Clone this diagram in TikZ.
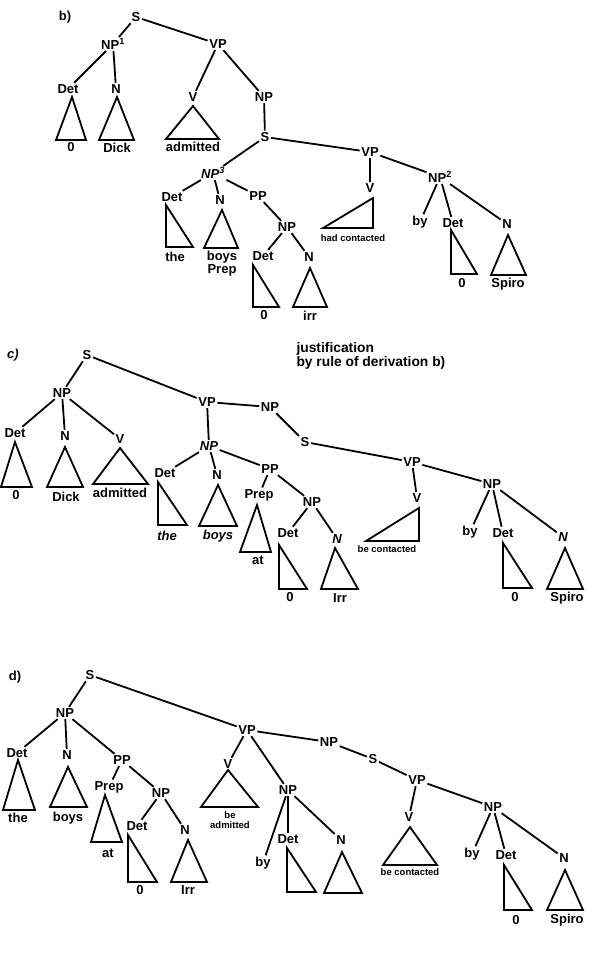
\documentclass[tikz,border=0pt]{standalone}
\usepackage{fontspec}
\setmainfont{Liberation Sans}
\usepackage{tikz}
\usetikzlibrary{positioning}

\newcommand{\labfont}{\fontsize{13}{15}\selectfont\bfseries}
\newcommand{\smallfont}{\fontsize{9.5}{9.5}\selectfont\bfseries}

\begin{document}
\begin{tikzpicture}[x=1pt, y=-1pt,
  %% ── Node styles ──────────────────────────────────────────────────────────
  cat/.style={font=\labfont, inner sep=1.5pt},
  catit/.style={font=\labfont\itshape, inner sep=1.5pt},
  word/.style={font=\labfont, inner sep=1pt},
  wordit/.style={font=\labfont\itshape, inner sep=1pt},
  tiny/.style={font=\smallfont, inner sep=0.5pt, align=center},
  note/.style={font=\fontsize{13.8}{14}\selectfont\bfseries, align=left, anchor=west},
  %% ── Line styles ──────────────────────────────────────────────────────────
  edge/.style={line width=1.8pt},
  tri/.style={line width=1.8pt, line join=miter}
]
\useasboundingbox (0,0) rectangle (597,957);

%% ── Tree b) ─────────────────────────────────────────────────────────────────
\node[cat] (bLab) at (65,17) {b)};
\node[cat] (bS)   at (136,17) {S};
\node[cat] (bNPa) at (113,44) {NP\textsuperscript{1}};
\node[cat] (bVP)  at (218,44) {VP};
\node[cat] (bDet) at (68,89)  {Det};
\node[cat] (bN)   at (116,89) {N};
\node[cat] (bV)   at (193,97) {V};
\node[cat] (bNP)  at (264,97) {NP};
\node[cat] (bS2)  at (265,137) {S};
\node[catit] (bNPc) at (213,173) {NP\textsuperscript{3}};
\node[cat] (bVP2) at (370,152) {VP};
\node[cat] (bDet2) at (172,197) {Det};
\node[cat] (bN2)  at (220,200) {N};
\node[cat] (bPP)  at (258,196) {PP};
\node[cat] (bNP3) at (287,227) {NP};
\node[cat] (bDet3) at (263,256) {Det};
\node[cat] (bN3)  at (309,257) {N};
\node[cat] (bV2)  at (370,188) {V};
\node[cat] (bNPb) at (440,177) {NP\textsuperscript{2}};
\node[cat] (bBy)  at (420,222) {by};
\node[cat] (bDet4) at (453,223) {Det};
\node[cat] (bN4)  at (507,224) {N};

%% words under the triangles
\node[word] (bw1) at (71,147)  {0};
\node[word] (bw2) at (117,148) {Dick};
\node[word] (bw3) at (193,147) {admitted};
\node[word] (bw4) at (175,257) {the};
\node[word] (bw5) at (222,257) {boys};
\node[word] (bw6) at (222,270) {Prep};
\node[word] (bw7) at (264,315) {0};
\node[word] (bw8) at (310,316) {irr};
\node[tiny] (bw9) at (353,238) {had contacted};
\node[word] (bw10) at (462,283) {0};
\node[word] (bw11) at (508,284) {Spiro};

%% triangles
\draw[tri] (72,97) -- (56,140) -- (86,140) -- cycle;
\draw[tri] (117,97) -- (99,140) -- (134,140) -- cycle;
\draw[tri] (193,106) -- (166,139) -- (219,139) -- cycle;
\draw[tri] (166,205) -- (166,247) -- (193,247) -- cycle;
\draw[tri] (222,210) -- (204,248) -- (238,248) -- cycle;
\draw[tri] (253,265) -- (253,307) -- (279,307) -- cycle;
\draw[tri] (310,268) -- (293,307) -- (327,307) -- cycle;
\draw[tri] (373,198) -- (373,228) -- (323,228) -- cycle;
\draw[tri] (451,230) -- (451,274) -- (477,274) -- cycle;
\draw[tri] (508,235) -- (491,275) -- (526,275) -- cycle;

%% branches
\draw[edge] (bS) -- (bNPa);
\draw[edge] (bS) -- (bVP);
\draw[edge] (bNPa) -- (bDet);
\draw[edge] (bNPa) -- (bN);
\draw[edge] (bVP) -- (bV);
\draw[edge] (bVP) -- (bNP);
\draw[edge] (bNP) -- (bS2);
\draw[edge] (bS2) -- (bNPc);
\draw[edge] (bS2) -- (bVP2);
\draw[edge] (bNPc) -- (bDet2);
\draw[edge] (bNPc) -- (bN2);
\draw[edge] (bNPc) -- (bPP);
\draw[edge] (bPP) -- (bNP3);
\draw[edge] (bNP3) -- (bDet3);
\draw[edge] (bNP3) -- (bN3);
\draw[edge] (bVP2) -- (bV2);
\draw[edge] (bVP2) -- (bNPb);
\draw[edge] (bNPb) -- (bBy);
\draw[edge] (bNPb) -- (bDet4);
\draw[edge] (bNPb) -- (bN4);

%% ── Tree c) ─────────────────────────────────────────────────────────────────
\node[catit] (cLab) at (13,355) {c)};
\node[cat] (cS)   at (87,355)  {S};
\node[cat] (cNPa) at (62,393)  {NP};
\node[cat] (cVP)  at (207,402) {VP};
\node[cat] (cNPb) at (270,407) {NP};
\node[cat] (cDet) at (15,433)  {Det};
\node[cat] (cN)   at (65,436)  {N};
\node[cat] (cV)   at (120,439) {V};
\node[catit] (cNPc) at (209,446) {NP};
\node[cat] (cS2)  at (305,442) {S};
\node[cat] (cVP2) at (412,462) {VP};
\node[cat] (cDet2) at (165,473) {Det};
\node[cat] (cN2)  at (217,475) {N};
\node[cat] (cPP)  at (270,469) {PP};
\node[cat] (cPrep) at (259,495) {Prep};
\node[cat] (cNPd) at (312,502) {NP};
\node[cat] (cDet3) at (288,533) {Det};
\node[catit] (cN3) at (337,539) {N};
\node[cat] (cV2)  at (417,498) {V};
\node[cat] (cNPe) at (492,484) {NP};
\node[cat] (cBy)  at (470,532) {by};
\node[cat] (cDet4) at (503,533) {Det};
\node[catit] (cN4) at (563,537) {N};

\node[note] (cNote) at (293,356) {justification\\by rule of derivation b)};

%% words under the triangles
\node[word] (cw1) at (16,495)  {0};
\node[word] (cw2) at (66,497)  {Dick};
\node[word] (cw3) at (120,493) {admitted};
\node[wordit] (cw4) at (167,536) {the};
\node[wordit] (cw5) at (218,536) {boys};
\node[word] (cw6) at (258,560) {at};
\node[word] (cw7) at (290,597) {0};
\node[word] (cw8) at (340,598) {Irr};
\node[tiny] (cw9) at (387,549) {be contacted};
\node[word] (cw10) at (515,597) {0};
\node[word] (cw11) at (567,598) {Spiro};

%% triangles
\draw[tri] (15,442) -- (1,487) -- (32,487) -- cycle;
\draw[tri] (65,447) -- (47,487) -- (83,487) -- cycle;
\draw[tri] (120,448) -- (93,484) -- (148,484) -- cycle;
\draw[tri] (158,482) -- (158,525) -- (187,525) -- cycle;
\draw[tri] (218,485) -- (199,526) -- (237,526) -- cycle;
\draw[tri] (257,505) -- (240,552) -- (271,552) -- cycle;
\draw[tri] (279,545) -- (279,589) -- (307,589) -- cycle;
\draw[tri] (335,548) -- (321,589) -- (358,589) -- cycle;
\draw[tri] (419,508) -- (419,541) -- (366,541) -- cycle;
\draw[tri] (503,543) -- (503,588) -- (532,588) -- cycle;
\draw[tri] (565,548) -- (547,589) -- (583,589) -- cycle;

%% branches
\draw[edge] (cS) -- (cNPa);
\draw[edge] (cS) -- (cVP);
\draw[edge] (cNPa) -- (cDet);
\draw[edge] (cNPa) -- (cN);
\draw[edge] (cNPa) -- (cV);
\draw[edge] (cVP) -- (cNPb);
\draw[edge] (cVP) -- (cNPc);
\draw[edge] (cNPb) -- (cS2);
\draw[edge] (cS2) -- (cVP2);
\draw[edge] (cNPc) -- (cDet2);
\draw[edge] (cNPc) -- (cN2);
\draw[edge] (cNPc) -- (cPP);
\draw[edge] (cPP) -- (cPrep);
\draw[edge] (cPP) -- (cNPd);
\draw[edge] (cNPd) -- (cDet3);
\draw[edge] (cNPd) -- (cN3);
\draw[edge] (cVP2) -- (cV2);
\draw[edge] (cVP2) -- (cNPe);
\draw[edge] (cNPe) -- (cBy);
\draw[edge] (cNPe) -- (cDet4);
\draw[edge] (cNPe) -- (cN4);

%% ── Tree d) ─────────────────────────────────────────────────────────────────
\node[cat] (dLab) at (15,677)  {d)};
\node[cat] (dS)   at (90,675)  {S};
\node[cat] (dNPa) at (65,713)  {NP};
\node[cat] (dVP)  at (247,730) {VP};
\node[cat] (dDet) at (17,753)  {Det};
\node[cat] (dN)   at (67,755)  {N};
\node[cat] (dPP)  at (122,760) {PP};
\node[cat] (dPrep) at (109,787) {Prep};
\node[cat] (dNPb) at (161,793) {NP};
\node[cat] (dDet2) at (137,826) {Det};
\node[cat] (dN2)  at (185,830) {N};
\node[cat] (dV)   at (228,764) {V};
\node[cat] (dNPc) at (288,790) {NP};
\node[cat] (dBy)  at (263,863) {by};
\node[cat] (dDet3) at (288,839) {Det};
\node[cat] (dN3)  at (341,840) {N};
\node[cat] (dNPd) at (329,742) {NP};
\node[cat] (dS2)  at (373,759) {S};
\node[cat] (dVP2) at (417,780) {VP};
\node[cat] (dV2)  at (409,817) {V};
\node[cat] (dNPe) at (493,807) {NP};
\node[cat] (dBy2) at (472,854) {by};
\node[cat] (dDet4) at (506,855) {Det};
\node[cat] (dN4)  at (564,858) {N};

%% words under the triangles
\node[word] (dw1) at (18,818)  {the};
\node[word] (dw2) at (68,818)  {boys};
\node[word] (dw3) at (108,853) {at};
\node[word] (dw4) at (140,890) {0};
\node[word] (dw5) at (188,890) {Irr};
\node[tiny] (dw6) at (230,820) {be\\admitted};
\node[tiny] (dw7) at (410,872) {be contacted};
\node[word] (dw8) at (516,920) {0};
\node[word] (dw9) at (567,920) {Spiro};

%% triangles
\draw[tri] (18,760) -- (3,810) -- (35,810) -- cycle;
\draw[tri] (68,767) -- (50,807) -- (87,807) -- cycle;
\draw[tri] (105,795) -- (91,842) -- (122,842) -- cycle;
\draw[tri] (128,835) -- (128,882) -- (157,882) -- cycle;
\draw[tri] (188,840) -- (171,882) -- (207,882) -- cycle;
\draw[tri] (228,770) -- (201,807) -- (258,807) -- cycle;
\draw[tri] (287,848) -- (287,892) -- (316,892) -- cycle;
\draw[tri] (342,852) -- (324,893) -- (362,893) -- cycle;
\draw[tri] (410,827) -- (383,865) -- (437,865) -- cycle;
\draw[tri] (504,865) -- (504,910) -- (532,910) -- cycle;
\draw[tri] (565,870) -- (547,910) -- (583,910) -- cycle;

%% branches
\draw[edge] (dS) -- (dNPa);
\draw[edge] (dS) -- (dVP);
\draw[edge] (dNPa) -- (dDet);
\draw[edge] (dNPa) -- (dN);
\draw[edge] (dNPa) -- (dPP);
\draw[edge] (dPP) -- (dPrep);
\draw[edge] (dPP) -- (dNPb);
\draw[edge] (dNPb) -- (dDet2);
\draw[edge] (dNPb) -- (dN2);
\draw[edge] (dVP) -- (dV);
\draw[edge] (dVP) -- (dNPc);
\draw[edge] (dVP) -- (dNPd);
\draw[edge] (dNPc) -- (dBy);
\draw[edge] (dNPc) -- (dDet3);
\draw[edge] (dNPc) -- (dN3);
\draw[edge] (dNPd) -- (dS2);
\draw[edge] (dS2) -- (dVP2);
\draw[edge] (dVP2) -- (dV2);
\draw[edge] (dVP2) -- (dNPe);
\draw[edge] (dNPe) -- (dBy2);
\draw[edge] (dNPe) -- (dDet4);
\draw[edge] (dNPe) -- (dN4);

\end{tikzpicture}
\end{document}
